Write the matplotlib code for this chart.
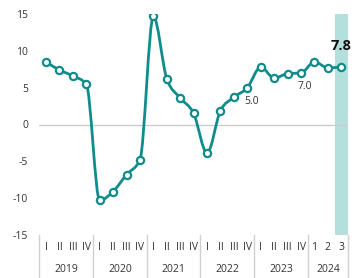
import numpy as np
import matplotlib
matplotlib.use("Agg")
import matplotlib.pyplot as plt
from matplotlib.path import Path
from matplotlib.patches import PathPatch
import matplotlib.transforms as mtransforms

plt.rcParams['font.family'] = ['Open Sans', 'DejaVu Sans']

# ---- data ----
years = ["2019", "2020", "2021", "2022", "2023", "2024"]
period_labels = ["I", "II", "III", "IV"] * 5 + ["1", "2", "3"]
periods_per_year = [4, 4, 4, 4, 4, 3]
values = [8.5, 7.4, 6.6, 5.5,
          -10.3, -9.1, -6.8, -4.8,
          14.7, 6.2, 3.6, 1.5,
          -3.9, 1.9, 3.7, 5.0,
          7.8, 6.3, 6.9, 7.0,
          8.5, 7.7, 7.8]
annotations = {15: "5.0", 19: "7.0"}
highlight_index = 22
highlight_label = "7.8"
yticks = [-15, -10, -5, 0, 5, 10, 15]

TEAL = "#118c8c"
BAND = "#b3dfdd"
TXT = "#333333"

fig = plt.figure(figsize=(3.57, 2.78), dpi=100)
ax = fig.add_axes([39.3 / 357, 43 / 278, (348 - 39.3) / 357, (235 - 14) / 278])

x = np.arange(len(values), dtype=float)
y = np.array(values, dtype=float)

# monotone-x smooth curve (d3 curveMonotoneX style)
def monotone_tangents(x, y):
    n = len(x)
    t = np.zeros(n)
    for i in range(1, n - 1):
        h0 = x[i] - x[i - 1]
        h1 = x[i + 1] - x[i]
        s0 = (y[i] - y[i - 1]) / h0
        s1 = (y[i + 1] - y[i]) / h1
        p = (s0 * h1 + s1 * h0) / (h0 + h1)
        t[i] = (np.sign(s0) + np.sign(s1)) * min(abs(s0), abs(s1), 0.5 * abs(p))
    t[0] = (3 * (y[1] - y[0]) / (x[1] - x[0]) - t[1]) / 2
    t[-1] = (3 * (y[-1] - y[-2]) / (x[-1] - x[-2]) - t[-2]) / 2
    return t

t = monotone_tangents(x, y)
verts = [(x[0], y[0])]
codes = [Path.MOVETO]
for i in range(len(x) - 1):
    dx = (x[i + 1] - x[i]) / 3
    verts += [(x[i] + dx, y[i] + dx * t[i]),
              (x[i + 1] - dx, y[i + 1] - dx * t[i + 1]),
              (x[i + 1], y[i + 1])]
    codes += [Path.CURVE4] * 3

ax.set_xlim(-0.5, len(values) - 0.5)
ax.set_ylim(-15, 15)

# highlight band
ax.axvspan(highlight_index - 0.5, highlight_index + 0.5, color=BAND, lw=0, zorder=0)
# zero line
ax.axhline(0, color="#cccccc", lw=1, zorder=1)

ax.add_patch(PathPatch(Path(verts, codes), fill=False, edgecolor=TEAL, lw=2.0,
                       zorder=3, capstyle='round', joinstyle='round'))
ax.plot(x, y, linestyle='none', marker='o', markersize=5.2,
        markerfacecolor='white', markeredgecolor=TEAL, markeredgewidth=1.6, zorder=4)

for idx, lab in annotations.items():
    ax.annotate(lab, (x[idx], y[idx]), xytext=(4, -14), textcoords='offset pixels',
                ha='center', va='center', fontsize=7.5, color=TXT)
ax.annotate(highlight_label, (x[highlight_index], y[highlight_index]),
            xytext=(0, 21), textcoords='offset pixels', ha='center', va='center',
            fontsize=10.5, fontweight='bold', color='#111111')

for s in ax.spines.values():
    s.set_visible(False)
ax.set_xticks([])
ax.set_yticks(yticks)
ax.set_yticklabels([str(v) for v in yticks])
ax.tick_params(axis='y', length=0, pad=8, labelsize=7.5, labelcolor=TXT)

# category labels & year labels
trans = mtransforms.blended_transform_factory(ax.transData, fig.transFigure)
for i, lab in enumerate(period_labels):
    ax.text(x[i], 1 - 248 / 278, lab, transform=trans, ha='center', va='center',
            fontsize=7.5, color=TXT)
start = 0
bounds = [-0.5]
for yr, n in zip(years, periods_per_year):
    center = start + (n - 1) / 2
    ax.text(center, 1 - 270 / 278, yr, transform=trans, ha='center', va='center',
            fontsize=7.5, color=TXT)
    start += n
    bounds.append(start - 0.5)
for b in bounds:
    ax.plot([b, b], [43 / 278, 0], transform=trans, color="#d0d0d0", lw=1,
            clip_on=False)

fig.savefig("out.png", dpi=100)
